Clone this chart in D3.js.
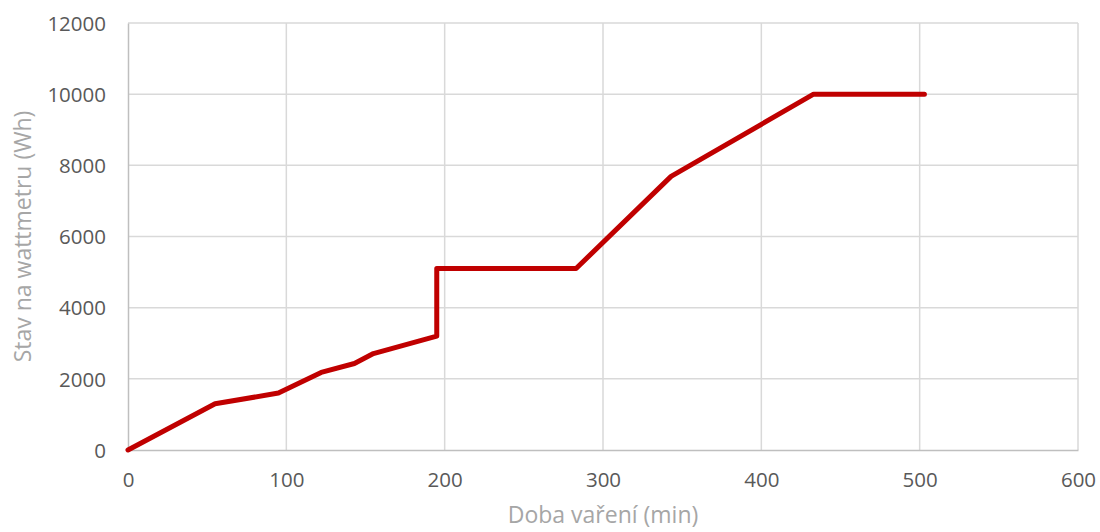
<!DOCTYPE html>
<html>
<head>
<meta charset="utf-8">
<script src="https://cdn.jsdelivr.net/npm/d3@7"></script>
<style>
  body { margin: 0; background: #fff; }
  svg text { font-family: "Open Sans", sans-serif; fill: #595959; }
</style>
</head>
<body>
<svg class="chart"></svg>
<script>
// doba vareni (min) a stav na wattmetru (Wh)
var times = [0, 55, 95, 122, 143, 155, 195, 195, 283, 343, 433, 503];
var readings = [0, 1300, 1600, 2180, 2430, 2710, 3200, 5100, 5100, 7690, 10000, 10000];
var xTicks = [0, 100, 200, 300, 400, 500, 600];
var yTicks = [0, 2000, 4000, 6000, 8000, 10000, 12000];

const W = 1100, H = 532;
const m = {left: 128, right: 22, top: 23, bottom: 82};
const svg = d3.select('svg.chart').attr('width', W).attr('height', H);

const x = d3.scaleLinear().domain([0, 600]).range([m.left, W - m.right]);
const y = d3.scaleLinear().domain([0, 12000]).range([H - m.bottom, m.top]);

// gridlines
svg.append('g').selectAll('line.gx')
  .data(xTicks.slice(1))
  .enter().append('line')
  .attr('x1', d => x(d)).attr('x2', d => x(d))
  .attr('y1', y(0)).attr('y2', y(12000))
  .attr('stroke', '#d9d9d9').attr('stroke-width', 1.5);

svg.append('g').selectAll('line.gy')
  .data(yTicks.slice(1))
  .enter().append('line')
  .attr('x1', x(0)).attr('x2', x(600))
  .attr('y1', d => y(d)).attr('y2', d => y(d))
  .attr('stroke', '#d9d9d9').attr('stroke-width', 1.5);

// axes
const xAxis = svg.append('g')
  .attr('transform', 'translate(0,' + y(0) + ')')
  .call(d3.axisBottom(x).tickValues(xTicks).tickSize(0).tickPadding(22));
const yAxis = svg.append('g')
  .attr('transform', 'translate(' + x(0) + ',0)')
  .call(d3.axisLeft(y).tickValues(yTicks).tickSize(0).tickPadding(22).tickFormat(d3.format('d')));

[xAxis, yAxis].forEach(function(a) {
  a.attr('font-family', null);
  a.select('.domain').attr('stroke', '#bfbfbf').attr('stroke-width', 1.5);
  a.selectAll('text').style('font-size', '20.5px').attr('fill', '#595959');
});
yAxis.selectAll('text').attr('dy', '0.35em');

// the line
const pts = times.map((t, i) => [t, readings[i]]);
svg.append('path')
  .datum(pts)
  .attr('d', d3.line().x(d => x(d[0])).y(d => y(d[1])))
  .attr('fill', 'none')
  .attr('stroke', '#c00000')
  .attr('stroke-width', 5)
  .attr('stroke-linejoin', 'round')
  .attr('stroke-linecap', 'round');

// axis titles
svg.append('text')
  .attr('x', x(300)).attr('y', 523)
  .attr('text-anchor', 'middle')
  .style('font-size', '23px')
  .style('fill', '#a6a6a6')
  .text('Doba vaření (min)');

svg.append('text')
  .attr('transform', 'translate(31,' + y(6000) + ') rotate(-90)')
  .attr('text-anchor', 'middle')
  .style('font-size', '23px')
  .style('fill', '#a6a6a6')
  .text('Stav na wattmetru (Wh)');
</script>
</body>
</html>
